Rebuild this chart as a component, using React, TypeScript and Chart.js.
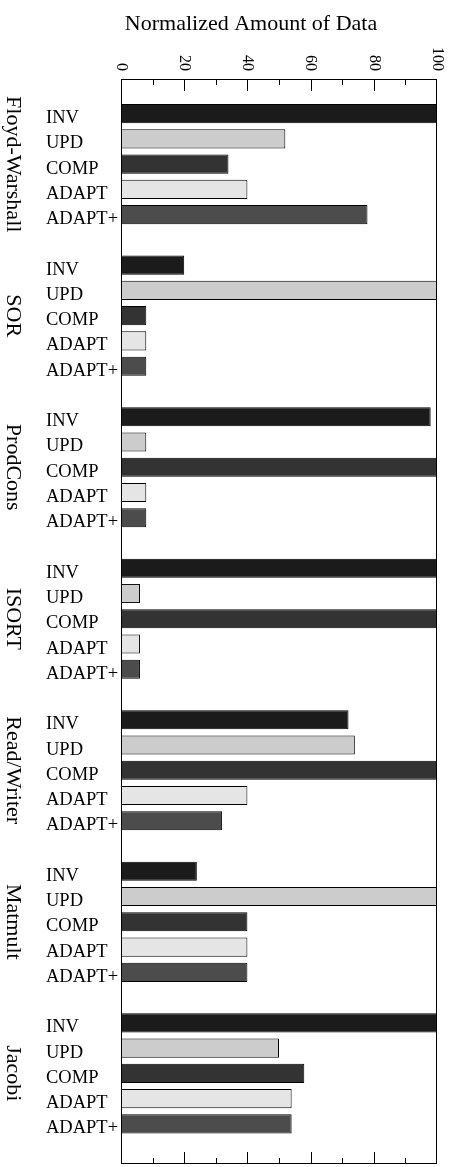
import { useEffect, useRef } from "react";
import { Chart, registerables } from "chart.js";

Chart.register(...registerables);

// Benchmarks (one group of bars each) and the protocol variants inside a group
const benchmarks = ["Floyd-Warshall", "SOR", "ProdCons", "ISORT", "Read/Writer", "Matmult", "Jacobi"];
const variants = ["INV", "UPD", "COMP", "ADAPT", "ADAPT+"];

// Normalized amount of data per benchmark, one array per variant
const invData = [100, 20, 98, 100, 72, 24, 100];
const updData = [52, 100, 8, 6, 74, 100, 50];
const compData = [34, 8, 100, 100, 100, 40, 58];
const adaptData = [40, 8, 8, 6, 40, 40, 54];
const adaptPlusData = [78, 8, 8, 6, 32, 40, 54];

// Labelled value-axis ticks (minor ticks fall halfway between them)
const xTickLabels = [0, 20, 40, 60, 80, 100];

const axisTitle = "Normalized Amount of Data";
const variantColors = ["#1b1b1b", "#cccccc", "#333333", "#e5e5e5", "#4c4c4c"];

const seriesValues = [invData, updData, compData, adaptData, adaptPlusData];
const slotsPerGroup = variants.length + 1;
const slotOf = (group: number, variant: number) => group * slotsPerGroup + variant;

const SERIF = '"Liberation Serif", "Times New Roman", Times, serif';

const decorations = {
  id: "decorations",
  afterDraw(chart: any) {
    const { ctx, chartArea } = chart;
    const xScale = chart.scales.x;
    const yScale = chart.scales.y;
    const { left, right, top, bottom } = chartArea;

    ctx.save();

    // frame
    ctx.strokeStyle = "#000";
    ctx.lineWidth = 1;
    ctx.strokeRect(left + 0.5, top + 0.5, right - left - 1, bottom - top - 1);

    // inward ticks on top and bottom edges
    ctx.beginPath();
    for (let v = 10; v < 100; v += 10) {
      const x = Math.round(xScale.getPixelForValue(v)) + 0.5;
      const len = v % 20 === 0 ? 12 : 6;
      ctx.moveTo(x, top);
      ctx.lineTo(x, top + len);
      ctx.moveTo(x, bottom);
      ctx.lineTo(x, bottom - len);
    }
    ctx.stroke();

    ctx.fillStyle = "#000";

    // axis title
    ctx.font = `22px ${SERIF}`;
    ctx.textAlign = "center";
    ctx.textBaseline = "alphabetic";
    ctx.fillText(axisTitle, 251, 29.5);

    // rotated tick labels above the frame
    for (const v of xTickLabels) {
      const x = xScale.getPixelForValue(v);
      ctx.save();
      ctx.translate(x, 71);
      ctx.rotate(Math.PI / 2);
      ctx.font = `16px ${SERIF}`;
      ctx.textAlign = "right";
      ctx.textBaseline = "middle";
      ctx.fillText(String(v), 0, 0);
      ctx.restore();
    }

    // benchmark names, rotated, centred on their group
    benchmarks.forEach((name, g) => {
      const y = yScale.getPixelForValue(slotOf(g, (variants.length - 1) / 2));
      ctx.save();
      ctx.translate(7, y);
      ctx.rotate(Math.PI / 2);
      ctx.font = `22px ${SERIF}`;
      ctx.textAlign = "center";
      ctx.textBaseline = "alphabetic";
      ctx.fillText(name, 0, 0);
      ctx.restore();
    });

    // variant names next to each bar
    ctx.font = `18.5px ${SERIF}`;
    ctx.textAlign = "left";
    ctx.textBaseline = "alphabetic";
    benchmarks.forEach((_, g) => {
      variants.forEach((v, i) => {
        const y = yScale.getPixelForValue(slotOf(g, i));
        ctx.fillText(v, 46, y + 9.5);
      });
    });

    ctx.restore();
  },
};

export default function App() {
  const canvasRef = useRef<HTMLCanvasElement | null>(null);

  useEffect(() => {
    const canvas = canvasRef.current;
    if (!canvas) return;

    const datasets = variants.map((name, i) => ({
      label: name,
      data: benchmarks.map((_, g) => ({ x: seriesValues[i][g], y: slotOf(g, i) })),
      backgroundColor: variantColors[i],
      borderColor: "#000",
      borderWidth: 1,
      borderSkipped: false,
      grouped: false,
      barPercentage: 0.76,
      categoryPercentage: 1,
    }));

    const chart = new Chart(canvas, {
      type: "bar",
      data: { datasets },
      options: {
        indexAxis: "y",
        responsive: false,
        animation: false,
        devicePixelRatio: 1,
        layout: { padding: { left: 121, top: 79, right: 16, bottom: 3 } },
        parsing: { xAxisKey: "x", yAxisKey: "y" },
        plugins: {
          legend: { display: false },
          tooltip: { enabled: false },
          title: { display: false },
        },
        scales: {
          x: {
            type: "linear",
            display: false,
            min: 0,
            max: 100,
            ticks: { stepSize: 10 },
          },
          y: {
            type: "linear",
            display: false,
            reverse: true,
            offset: false,
            min: -1.374,
            max: 41.592,
            ticks: { stepSize: 6 },
          },
        },
      },
      plugins: [decorations],
    } as any);

    return () => chart.destroy();
  }, []);

  return (
    <div style={{ position: "absolute", left: 0, top: 0, width: 453, height: 1167, background: "#fff" }}>
      <canvas ref={canvasRef} width={453} height={1167} style={{ display: "block" }} />
    </div>
  );
}
